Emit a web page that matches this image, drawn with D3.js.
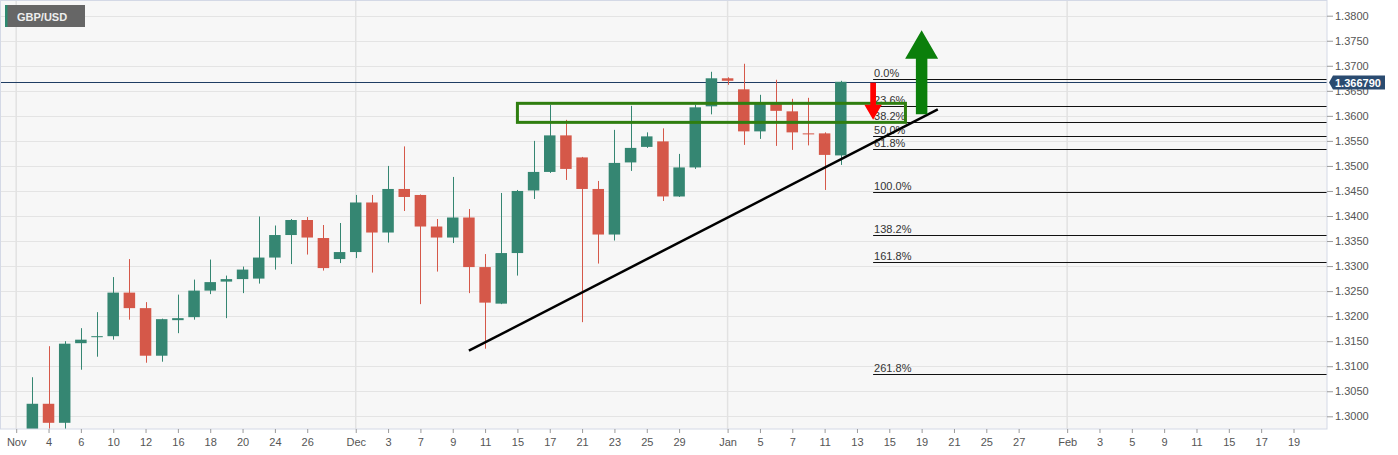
<!DOCTYPE html>
<html>
<head>
<meta charset="utf-8">
<script src="https://cdn.jsdelivr.net/npm/d3@7/dist/d3.min.js"></script>
<style>
  body { margin: 0; background: #fff; }
  text { font-family: "Liberation Sans", Arial, sans-serif; }
</style>
</head>
<body>
<script>
// daily GBP/USD candles
const days = [
  "2020-11-03","2020-11-04","2020-11-05","2020-11-06","2020-11-09","2020-11-10","2020-11-11","2020-11-12","2020-11-13",
  "2020-11-16","2020-11-17","2020-11-18","2020-11-19","2020-11-20","2020-11-23","2020-11-24","2020-11-25","2020-11-26","2020-11-27",
  "2020-11-30","2020-12-01","2020-12-02","2020-12-03","2020-12-04","2020-12-07","2020-12-08","2020-12-09","2020-12-10","2020-12-11",
  "2020-12-14","2020-12-15","2020-12-16","2020-12-17","2020-12-18","2020-12-21","2020-12-22","2020-12-23","2020-12-24","2020-12-25",
  "2020-12-28","2020-12-29","2020-12-30","2020-12-31","2021-01-01","2021-01-04","2021-01-05","2021-01-06","2021-01-07","2021-01-08",
  "2021-01-11","2021-01-12"
]
const opens = [
  1.2945,1.3025,1.2987,1.3146,1.3158,1.3160,1.3247,1.3216,1.3121,
  1.3192,1.3198,1.3251,1.3269,1.3274,1.3275,1.3317,1.3362,1.3392,1.3356,
  1.3314,1.3328,1.3427,1.3367,1.3454,1.3442,1.3379,1.3357,1.3397,1.3298,
  1.3225,1.3326,1.3451,1.3488,1.3561,1.3517,1.3454,1.3363,1.3507,1.3538,
  1.3549,1.3439,1.3497,1.3619,1.3675,1.3653,1.3569,1.3625,1.3609,1.3565,
  1.3565,1.3521
]
const highs = [
  1.3078,1.3140,1.3150,1.3176,1.3208,1.3278,1.3314,1.3228,1.3195,
  1.3243,1.3273,1.3313,1.3281,1.3299,1.3399,1.3381,1.3394,1.3398,1.3382,
  1.3386,1.3442,1.3442,1.3500,1.3539,1.3443,1.3394,1.3478,1.3414,1.3324,
  1.3446,1.3452,1.3550,1.3622,1.3592,1.3518,1.3470,1.3572,1.3620,1.3567,
  1.3575,1.3524,1.3622,1.3688,1.3677,1.3704,1.3642,1.3672,1.3634,1.3636,
  1.3567,1.3670
]
const lows = [
  1.2920,1.2950,1.2965,1.3093,1.3119,1.3153,1.3193,1.3107,1.3109,
  1.3166,1.3193,1.3244,1.3196,1.3246,1.3265,1.3293,1.3304,1.3323,1.3291,
  1.3306,1.3316,1.3287,1.3347,1.3410,1.3224,1.3289,1.3346,1.3246,1.3135,
  1.3224,1.3281,1.3434,1.3486,1.3472,1.3188,1.3305,1.3351,1.3490,1.3536,
  1.3430,1.3438,1.3494,1.3603,1.3662,1.3542,1.3554,1.3540,1.3532,1.3541,
  1.3452,1.3502
]
const closes = [
  1.3025,1.2987,1.3145,1.3153,1.3160,1.3247,1.3216,1.3121,1.3194,
  1.3196,1.3251,1.3268,1.3274,1.3293,1.3317,1.3362,1.3392,1.3357,1.3296,
  1.3328,1.3427,1.3367,1.3454,1.3438,1.3379,1.3357,1.3397,1.3298,1.3227,
  1.3326,1.3450,1.3488,1.3561,1.3494,1.3454,1.3363,1.3506,1.3536,1.3559,
  1.3439,1.3497,1.3617,1.3675,1.3670,1.3569,1.3625,1.3610,1.3567,1.3563,
  1.3522,1.3668
]

const lastPrice = 1.36679

const priceTicks = [1.300,1.305,1.310,1.315,1.320,1.325,1.330,1.335,1.340,1.345,1.350,1.355,1.360,1.365,1.370,1.375,1.380]
const dateTicks = [
  "2020-11-02","2020-11-04","2020-11-06","2020-11-10","2020-11-12","2020-11-16","2020-11-18","2020-11-20","2020-11-24","2020-11-26",
  "2020-12-01","2020-12-03","2020-12-07","2020-12-09","2020-12-11","2020-12-15","2020-12-17","2020-12-21","2020-12-23","2020-12-25","2020-12-29",
  "2021-01-01","2021-01-05","2021-01-07","2021-01-11","2021-01-13","2021-01-15","2021-01-19","2021-01-21","2021-01-25","2021-01-27",
  "2021-02-01","2021-02-03","2021-02-05","2021-02-09","2021-02-11","2021-02-15","2021-02-17","2021-02-19"
]
const dateTickLabels = [
  "Nov","4","6","10","12","16","18","20","24","26",
  "Dec","3","7","9","11","15","17","21","23","25","29",
  "Jan","5","7","11","13","15","19","21","25","27",
  "Feb","3","5","9","11","15","17","19"
]
const monthStarts = ["2020-11-02","2020-12-01","2021-01-01","2021-02-01"]

// fibonacci drawing
const fibHigh = 1.3673
const fibLow  = 1.3448
const fibFrom = "2021-01-14"
const fibLevels = [0, 0.236, 0.382, 0.5, 0.618, 1, 1.382, 1.618, 2.618]
const fibLabels = ["0.0%","23.6%","38.2%","50.0%","61.8%","100.0%","138.2%","161.8%","261.8%"]

// annotations (date, price)
const trendDays   = ["2020-12-10","2021-01-20"]
const trendPrices = [1.3131, 1.3613]
const boxDays     = ["2020-12-15","2021-01-18"]
const boxPrices   = [1.3625, 1.3587]
const downArrowDay    = "2021-01-14"
const downArrowPrices = [1.3666, 1.3592]
const upArrowDay      = "2021-01-19"
const upArrowPrices   = [1.3603, 1.3771]

const W = 1398, H = 455
const plotW = 1327, plotH = 429

// trading days (weekdays) -> index
const fmt = d3.timeFormat("%Y-%m-%d")
const tradingDays = d3.timeDay.range(new Date(2020, 10, 2), new Date(2021, 1, 23))
    .filter(d => d.getDay() > 0 && d.getDay() < 6)
    .map(fmt)
const dayIndex = new Map(tradingDays.map((d, i) => [d, i]))

const x = d3.scaleLinear()
    .domain([0, dayIndex.get("2021-02-19")])
    .range([16.2, 1293.5])
const y = d3.scaleLinear()
    .domain([1.30, 1.38])
    .range([416.3, 15.7])
const xd = d => x(dayIndex.get(d))
const crisp = v => Math.round(v) + 0.5

const candles = days.map((d, i) => ({ day: d, o: opens[i], h: highs[i], l: lows[i], c: closes[i] }))

const svg = d3.select("body").append("svg")
    .attr("width", W)
    .attr("height", H)

svg.append("defs").append("clipPath")
    .attr("id", "plot")
    .append("rect")
        .attr("width", plotW)
        .attr("height", plotH)

svg.append("rect")
    .attr("width", plotW)
    .attr("height", plotH)
    .attr("fill", "#f7f7f7")

const plot = svg.append("g").attr("clip-path", "url(#plot)")

// grid
plot.append("g")
    .selectAll("line")
    .data(priceTicks)
    .enter()
    .append("line")
        .attr("x1", 0)
        .attr("x2", plotW)
        .attr("y1", d => crisp(y(d)))
        .attr("y2", d => crisp(y(d)))
        .attr("stroke", "#e4e4e4")

plot.append("g")
    .selectAll("line")
    .data(monthStarts)
    .enter()
    .append("line")
        .attr("x1", d => xd(d))
        .attr("x2", d => xd(d))
        .attr("y1", 0)
        .attr("y2", plotH)
        .attr("stroke", "#e2e2e2")
        .attr("stroke-width", 1.5)

// last price line
plot.append("line")
    .attr("x1", 0)
    .attr("x2", plotW)
    .attr("y1", crisp(y(lastPrice)))
    .attr("y2", crisp(y(lastPrice)))
    .attr("stroke", "#1f3d63")
    .attr("stroke-width", 1)

// fib levels
const fibG = plot.append("g")
const fibPrice = lv => fibHigh - lv * (fibHigh - fibLow)
fibG.selectAll("line")
    .data(fibLevels)
    .enter()
    .append("line")
        .attr("x1", xd(fibFrom))
        .attr("x2", plotW)
        .attr("y1", d => crisp(y(fibPrice(d))))
        .attr("y2", d => crisp(y(fibPrice(d))))
        .attr("stroke", "#111")
        .attr("stroke-width", 1)
fibG.selectAll("text")
    .data(fibLevels)
    .enter()
    .append("text")
        .attr("x", xd(fibFrom) + 1)
        .attr("y", d => y(fibPrice(d)) - 2)
        .attr("font-size", 11)
        .attr("fill", "#333")
        .text((d, i) => fibLabels[i])

// candles
const up = "#358672", down = "#d55849"
const cg = plot.append("g")
    .selectAll("g")
    .data(candles)
    .enter()
    .append("g")
cg.append("line")
    .attr("x1", d => crisp(xd(d.day)))
    .attr("x2", d => crisp(xd(d.day)))
    .attr("y1", d => y(d.h))
    .attr("y2", d => y(d.l))
    .attr("stroke", d => d.c >= d.o ? up : down)
    .attr("stroke-width", 1)
cg.append("rect")
    .attr("x", d => xd(d.day) - 5.75)
    .attr("width", 11.5)
    .attr("y", d => y(Math.max(d.o, d.c)))
    .attr("height", d => Math.max(1, y(Math.min(d.o, d.c)) - y(Math.max(d.o, d.c))))
    .attr("fill", d => d.c >= d.o ? up : down)

// resistance box
plot.append("rect")
    .attr("x", xd(boxDays[0]))
    .attr("y", y(boxPrices[0]))
    .attr("width", xd(boxDays[1]) - xd(boxDays[0]))
    .attr("height", y(boxPrices[1]) - y(boxPrices[0]))
    .attr("fill", "none")
    .attr("stroke", "#2f7e10")
    .attr("stroke-width", 3)

// trendline
plot.append("line")
    .attr("x1", xd(trendDays[0]))
    .attr("y1", y(trendPrices[0]))
    .attr("x2", xd(trendDays[1]))
    .attr("y2", y(trendPrices[1]))
    .attr("stroke", "#000")
    .attr("stroke-width", 2.5)

// arrows
const arrow = (cx, yTail, yTip, shaftW, headW, headL, color) => {
    const dir = yTip < yTail ? -1 : 1
    const yBase = yTip - dir * headL
    const pts = [
        [cx - shaftW / 2, yTail], [cx - shaftW / 2, yBase], [cx - headW / 2, yBase],
        [cx, yTip], [cx + headW / 2, yBase], [cx + shaftW / 2, yBase], [cx + shaftW / 2, yTail]
    ]
    plot.append("polygon")
        .attr("points", pts.map(p => p.join(",")).join(" "))
        .attr("fill", color)
}
arrow(xd(downArrowDay), y(downArrowPrices[0]), y(downArrowPrices[1]), 5.7, 17.5, 15, "#ff0000")
arrow(xd(upArrowDay), y(upArrowPrices[0]), y(upArrowPrices[1]), 11.5, 33, 28.5, "#0b7f0b")

// plot border
svg.append("rect")
    .attr("x", 0.5)
    .attr("y", 0.5)
    .attr("width", plotW - 0.5)
    .attr("height", plotH - 0.5)
    .attr("fill", "none")
    .attr("stroke", "#d4d9e6")

// axes
const yAxis = svg.append("g")
    .attr("transform", `translate(${plotW},0)`)
    .call(d3.axisRight(y).tickValues(priceTicks).tickFormat(d3.format(".4f")).tickSize(6).tickPadding(2))
yAxis.select(".domain").remove()
yAxis.selectAll("line").attr("stroke", "#9a9a9a")
yAxis.selectAll("text").attr("fill", "#555").attr("font-size", 11).attr("font-family", null)

const xAxis = svg.append("g")
    .attr("transform", `translate(0,${plotH})`)
    .call(d3.axisBottom(x)
        .tickValues(dateTicks.map(d => dayIndex.get(d)))
        .tickFormat((d, i) => dateTickLabels[i])
        .tickSize(4)
        .tickPadding(5))
xAxis.select(".domain").remove()
xAxis.selectAll("line").attr("stroke", "#9a9a9a")
xAxis.selectAll("text").attr("fill", "#555").attr("font-size", 11).attr("font-family", null)

// last price tag (covers the 1.3650 label, as in the source)
const ly = crisp(y(lastPrice))
svg.append("polygon")
    .attr("points", [[plotW + 2, ly], [plotW + 6, ly - 7], [1385, ly - 7], [1385, ly + 7], [plotW + 6, ly + 7]].map(p => p.join(",")).join(" "))
    .attr("fill", "#2a4b70")
svg.append("text")
    .attr("x", plotW + 8)
    .attr("y", ly + 4)
    .attr("font-size", 11)
    .attr("font-weight", "bold")
    .attr("fill", "#fff")
    .text(lastPrice.toFixed(6))

// symbol tag
svg.append("rect")
    .attr("x", 5)
    .attr("y", 5)
    .attr("width", 80)
    .attr("height", 22)
    .attr("fill", "#666")
svg.append("rect")
    .attr("x", 5)
    .attr("y", 5)
    .attr("width", 2.5)
    .attr("height", 22)
    .attr("fill", "#2e8a70")
svg.append("text")
    .attr("x", 17)
    .attr("y", 20.5)
    .attr("font-size", 11)
    .attr("font-weight", "bold")
    .attr("fill", "#eee")
    .text("GBP/USD")
</script>
</body>
</html>
